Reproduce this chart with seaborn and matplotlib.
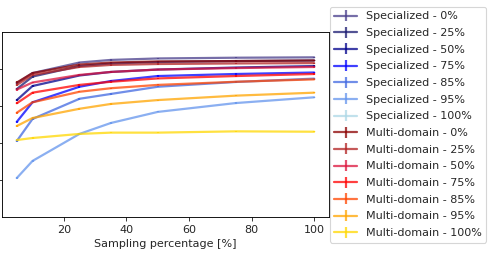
import numpy as np
import matplotlib
matplotlib.use('Agg')
import matplotlib.pyplot as plt
import seaborn as sns

# sampling percentages on the x axis
sampling = [5, 10, 25, 35, 50, 75, 100]

spec_labels = ['Specialized - 0%', 'Specialized - 25%', 'Specialized - 50%', 'Specialized - 75%',
               'Specialized - 85%', 'Specialized - 95%', 'Specialized - 100%']
multi_labels = ['Multi-domain - 0%', 'Multi-domain - 25%', 'Multi-domain - 50%', 'Multi-domain - 75%',
                'Multi-domain - 85%', 'Multi-domain - 95%', 'Multi-domain - 100%']

spec_colors = ['darkslateblue', 'midnightblue', 'darkblue', 'blue', 'royalblue', 'cornflowerblue', 'lightblue']
multi_colors = ['darkred', 'firebrick', 'crimson', 'red', 'orangered', 'orange', 'gold']

spec_0 = [0.724, 0.778, 0.835, 0.849, 0.857, 0.861, 0.863]
spec_25 = [0.692, 0.759, 0.816, 0.830, 0.838, 0.843, 0.846]
spec_50 = [0.632, 0.708, 0.765, 0.784, 0.797, 0.808, 0.816]
spec_75 = [0.515, 0.620, 0.704, 0.735, 0.762, 0.773, 0.781]
spec_85 = [0.411, 0.530, 0.639, 0.665, 0.704, 0.730, 0.748]
spec_95 = [0.211, 0.303, 0.449, 0.508, 0.568, 0.616, 0.647]
spec_100 = [np.nan] * 7

multi_0 = [0.727, 0.778, 0.824, 0.835, 0.841, 0.843, 0.846]
multi_25 = [0.714, 0.768, 0.811, 0.822, 0.827, 0.830, 0.832]
multi_50 = [0.689, 0.727, 0.768, 0.784, 0.797, 0.805, 0.811]
multi_75 = [0.615, 0.672, 0.714, 0.731, 0.749, 0.762, 0.773]
multi_85 = [0.564, 0.620, 0.677, 0.696, 0.714, 0.731, 0.744]
multi_95 = [0.492, 0.535, 0.585, 0.611, 0.632, 0.656, 0.672]
multi_100 = [0.416, 0.427, 0.449, 0.456, 0.456, 0.463, 0.461]

spec_err = [0.006, 0.005, 0.004, 0.004, 0.003, 0.003, 0.003]
multi_err = [0.006, 0.005, 0.004, 0.004, 0.003, 0.003, 0.003]

spec_vals = [spec_0, spec_25, spec_50, spec_75, spec_85, spec_95, spec_100]
multi_vals = [multi_0, multi_25, multi_50, multi_75, multi_85, multi_95, multi_100]

sns.set_style('ticks')
plt.rcParams['font.family'] = ['DejaVu Sans']

dpi = 80
fig = plt.figure(figsize=(495 / dpi, 260 / dpi), dpi=dpi)
ax = fig.add_axes([2 / 495, 43 / 260, 327 / 495, 185 / 260])

for vals, lab, col in zip(spec_vals, spec_labels, spec_colors):
    ax.errorbar(sampling, vals, yerr=spec_err, color=col, label=lab, alpha=0.75, linewidth=2)
for vals, lab, col in zip(multi_vals, multi_labels, multi_colors):
    ax.errorbar(sampling, vals, yerr=multi_err, color=col, label=lab, alpha=0.75, linewidth=2)

ax.set_ylim(0, 1)
ax.set_yticks([0.2, 0.4, 0.6, 0.8])
ax.set_yticklabels([])
ax.set_xticks([20, 40, 60, 80, 100])
ax.set_xlabel('Sampling percentage [%]', fontsize=10)
ax.tick_params(labelsize=10)
for s in ax.spines.values():
    s.set_color('black')

fig.legend(loc='upper left', bbox_to_anchor=(330 / 495, 1 - 7 / 260), borderaxespad=0,
           fontsize=10, labelspacing=0.6)

fig.savefig('out.png', dpi=dpi)
